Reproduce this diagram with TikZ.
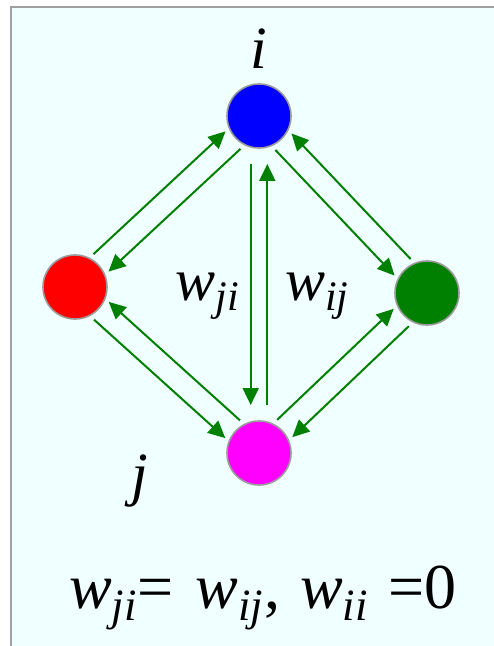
\documentclass[tikz,border=0pt]{standalone}
\usepackage{fontspec}
\setmainfont{Liberation Serif}
\usetikzlibrary{positioning,calc,arrows.meta}
\definecolor{panelcyan}{RGB}{240,255,255}
\definecolor{framegray}{RGB}{160,160,160}
\definecolor{rimgray}{RGB}{155,155,155}
\definecolor{linkgreen}{RGB}{0,128,0}
\definecolor{unitmagenta}{RGB}{255,0,255}
\definecolor{unitblue}{RGB}{0,0,255}
\definecolor{unitred}{RGB}{255,0,0}
\newcommand\wsub[1]{\textit{w}\textsubscript{\textit{#1}}}

\begin{document}
\begin{tikzpicture}[x=0.5pt, y=0.5pt,
    neuron/.style={circle, draw=rimgray, line width=0.8pt, minimum size=32pt, inner sep=0pt},
    link/.style={draw=linkgreen, line width=1pt, -{Triangle[length=8.5pt,width=8pt]},
      shorten <=18pt, shorten >=17.5pt},
    vlink/.style={link, shorten <=24pt, shorten >=24pt},
    lbl/.style={font=\fontsize{30}{36}\selectfont}]
  \useasboundingbox (0,0) rectangle (493,-646);
  \draw[framegray, line width=1pt, fill=panelcyan] (11,-7) rectangle (530,-690);

  % the four units
  \node[neuron, fill=unitblue] (ui) at (259,-116) {};
  \node[neuron, fill=unitred] (ul) [on grid, below left=85.5pt and 92pt of ui] {};
  \node[neuron, fill=linkgreen] (ur) [on grid, below right=88.5pt and 84pt of ui] {};
  \node[neuron, fill=unitmagenta] (uj) [on grid, below=168.5pt of ui] {};

  \node[lbl] (li) [above=3.6pt of ui] {\textit{i}};
  \node[lbl] (lj) [on grid, below left=14pt and 59.5pt of uj] {\textit{j}};

  % weights, one line each way
  \draw[link] ($(ul)!5.75pt!90:(ui)$) -- ($(ui)!5.75pt!-90:(ul)$);
  \draw[link] ($(ui)!5.75pt!90:(ul)$) -- ($(ul)!5.75pt!-90:(ui)$);
  \draw[link] ($(ui)!5.75pt!-90:(ur)$) -- ($(ur)!5.75pt!90:(ui)$);
  \draw[link] ($(ur)!5.75pt!-90:(ui)$) -- ($(ui)!5.75pt!90:(ur)$);
  \draw[link] ($(ul)!5.75pt!-90:(uj)$) -- ($(uj)!5.75pt!90:(ul)$);
  \draw[link] ($(uj)!5.75pt!-90:(ul)$) -- ($(ul)!5.75pt!90:(uj)$);
  \draw[link] ($(uj)!5.75pt!90:(ur)$) -- ($(ur)!5.75pt!-90:(uj)$);
  \draw[link] ($(ur)!5.75pt!90:(uj)$) -- ($(uj)!5.75pt!-90:(ur)$);
  \draw[vlink] ($(ui)!4.15pt!-90:(uj)$) -- ($(uj)!4.15pt!90:(ui)$);
  \draw[vlink] ($(uj)!4.15pt!-90:(ui)$) -- ($(ui)!4.15pt!90:(uj)$);

  \coordinate (mid) at ($(ui)!0.5!(uj)$);
  \node[lbl, anchor=base east] (wji) at ([xshift=-6pt,yshift=-7.75pt]mid) {\wsub{ji}};
  \node[lbl, anchor=base west] (wij) at ([xshift=9.5pt,yshift=-7.75pt]mid) {\wsub{ij}};

  \node[lbl, font=\fontsize{32}{38}\selectfont, anchor=base] (rule) at ([xshift=2pt,yshift=-77.5pt]uj)
    {\wsub{ji}=\hspace{3pt} \wsub{ij},\hspace{2pt} \wsub{ii}\hspace{2pt} =0};
\end{tikzpicture}
\end{document}
